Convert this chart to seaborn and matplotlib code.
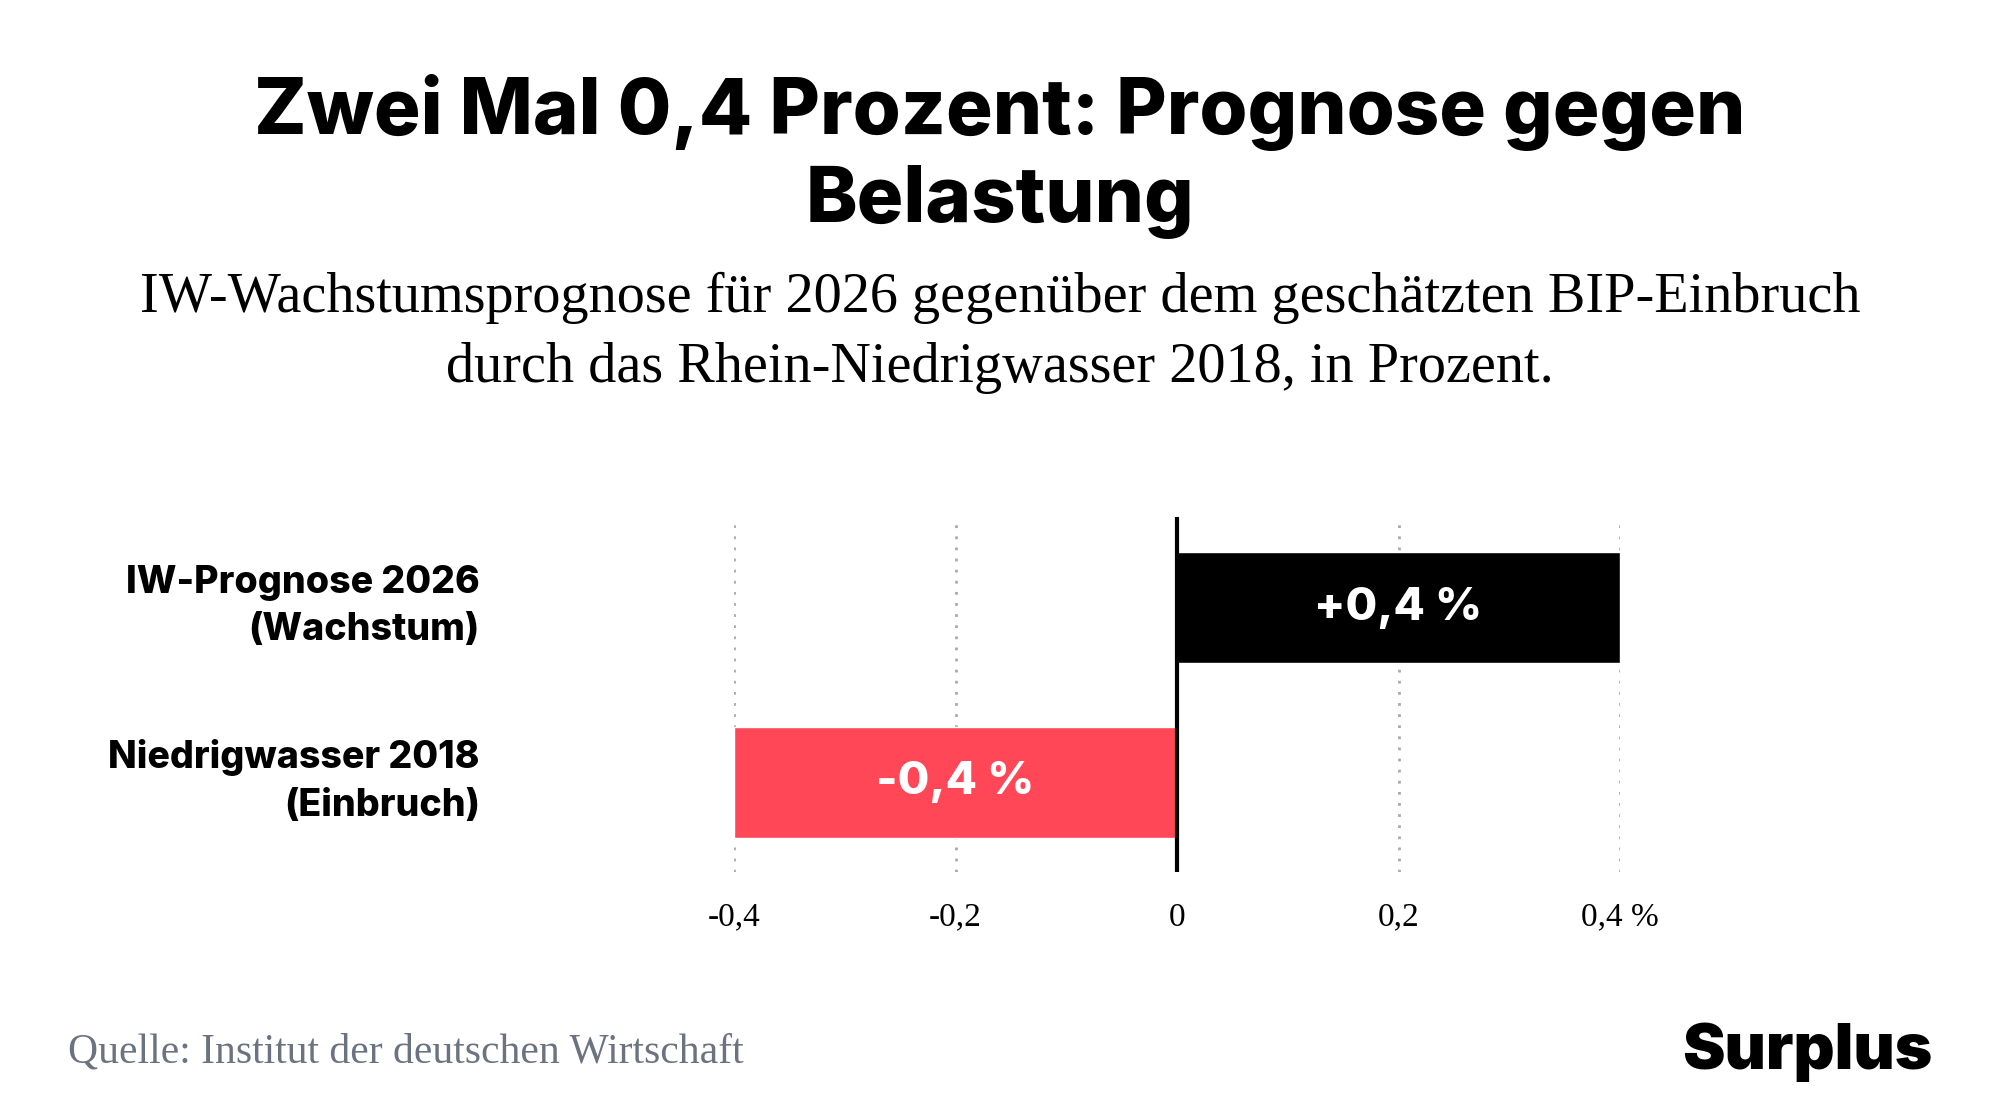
import matplotlib
matplotlib.use("Agg")
import matplotlib.pyplot as plt
import seaborn as sns
import pandas as pd

categories = ["IW-Prognose 2026\n(Wachstum)", "Niedrigwasser 2018\n(Einbruch)"]
values = [0.4, -0.4]
bar_labels = ["+0,4 %", "-0,4 %"]
tick_values = [-0.4, -0.2, 0, 0.2, 0.4]
tick_labels = ["-0,4", "-0,2", "0", "0,2", "0,4 %"]
colors = ["#000000", "#ff4757"]

sns.set_theme(style="white")
plt.rcParams['font.family'] = ['Inter', 'DejaVu Sans']
plt.rcParams['text.color'] = 'black'

fig = plt.figure(figsize=(20, 11.16), dpi=100)
ax = fig.add_axes([0.367, 0.219, 0.443, 0.318])
df = pd.DataFrame({"cat": categories, "val": values})
sns.barplot(data=df, y="cat", x="val", hue="cat", palette=colors, orient="h",
            width=0.635, ax=ax, legend=False, saturation=1)
ax.set_xlim(-0.4, 0.4)
ax.set_ylim(1.51, -0.52)
for s in ax.spines.values():
    s.set_visible(False)
for t in tick_values:
    if t != 0:
        ax.axvline(t, color="#aaaaaa", ls=(0, (1, 3)), lw=2, zorder=0)
ax.axvline(0, color="black", lw=3, zorder=3)
ax.set_xticks(tick_values)
ax.set_xticklabels(tick_labels, family="Liberation Serif", fontsize=24, color="black")
ax.tick_params(axis="x", length=0, pad=22)
ax.set_xlabel(""); ax.set_ylabel("")
ax.set_yticks([v - 0.06 for v in range(len(categories))])
ax.set_yticklabels(categories, fontsize=27, fontweight="heavy", ha="right",
                   linespacing=1.4, color="black")
ax.tick_params(axis="y", length=0, pad=183)
for i, (v, lab) in enumerate(zip(values, bar_labels)):
    ax.text(v / 2, i, lab, color="white", fontsize=33, fontweight="heavy",
            ha="center", va="center")

fig.text(0.5, 0.860, "Zwei Mal 0,4 Prozent: Prognose gegen\nBelastung", ha="center",
         va="center", fontsize=56, fontweight="heavy", linespacing=1.25, color="black")
fig.text(0.5, 0.702, "IW-Wachstumsprognose für 2026 gegenüber dem geschätzten BIP-Einbruch\n"
         "durch das Rhein-Niedrigwasser 2018, in Prozent.", ha="center", va="center",
         fontsize=40.5, family="Liberation Serif", linespacing=1.45, color="black")
fig.text(0.034, 0.057, "Quelle: Institut der deutschen Wirtschaft", fontsize=30,
         family="Liberation Serif", color="#6b7280", va="center")
fig.text(0.966, 0.057, "Surplus", fontsize=46, fontweight="black", ha="right",
         va="center", color="black")
fig.savefig("out.png", dpi=100, facecolor="white")
